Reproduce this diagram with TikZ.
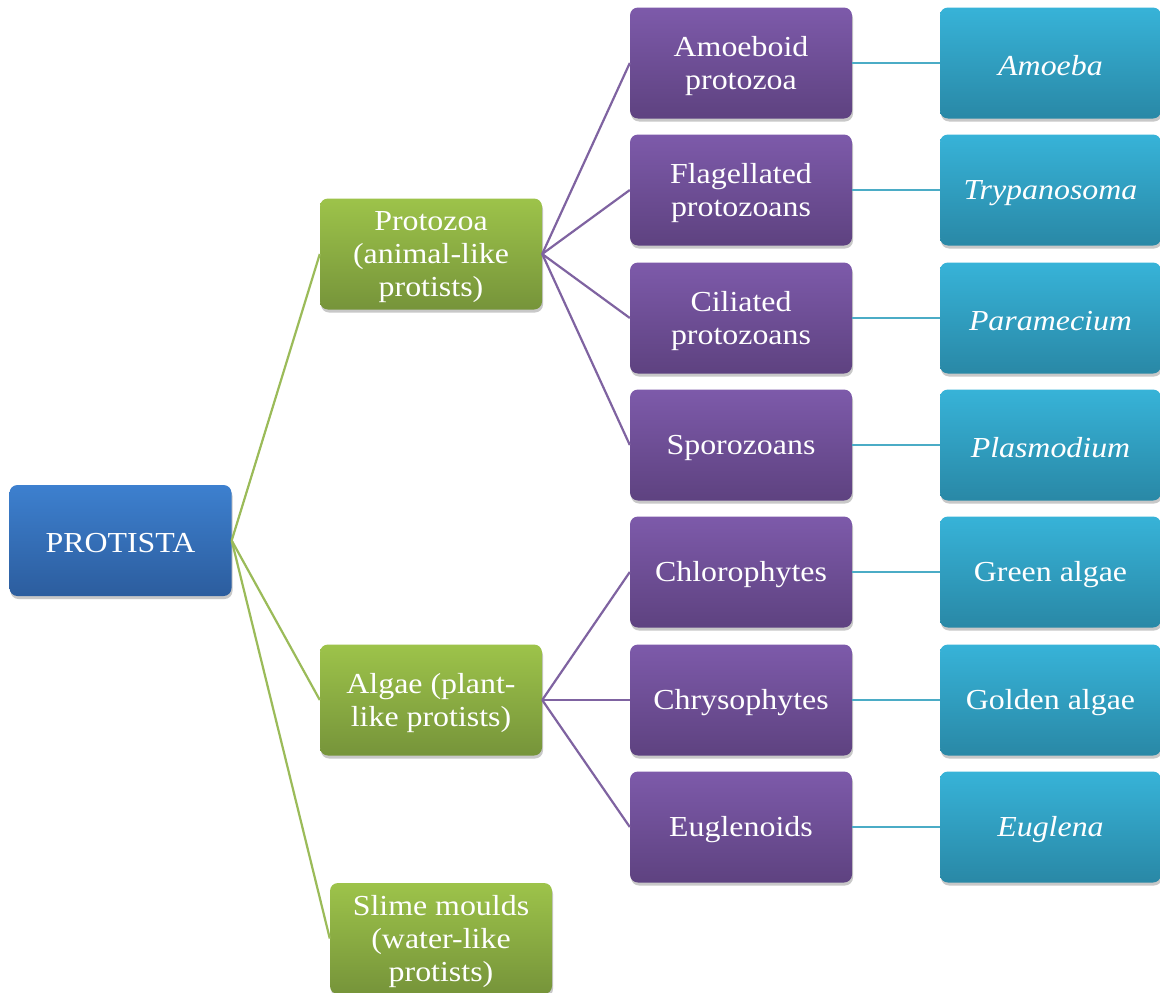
\documentclass[tikz,border=0pt]{standalone}
\usepackage{fontspec}
\setmainfont[FakeStretch=1.1]{Liberation Serif}
\usetikzlibrary{shadows}
\definecolor{bluetop}{HTML}{3D80CF}
\definecolor{bluebot}{HTML}{2C5D9E}
\definecolor{greentop}{HTML}{9DC34A}
\definecolor{greenbot}{HTML}{76943A}
\definecolor{purptop}{HTML}{7D5AAA}
\definecolor{purpbot}{HTML}{5E4280}
\definecolor{tealtop}{HTML}{37B3D8}
\definecolor{tealbot}{HTML}{2988A6}
\definecolor{greenline}{HTML}{9BBB59}
\definecolor{purpline}{HTML}{7F63A1}
\definecolor{tealline}{HTML}{4BACC6}
\begin{document}
\begin{tikzpicture}[x=1pt,y=-1pt,
  font=\fontsize{29}{33}\selectfont,
  box/.style={rounded corners=8pt, minimum width=222pt, minimum height=111pt,
    inner sep=0pt,
    drop shadow={shadow xshift=1pt, shadow yshift=-3pt, opacity=0.3, fill=black!70},
    label={[align=center, text=white, inner sep=0pt, yshift=-3pt]center:{#1}}},
  bluebox/.style={box={#1}, top color=bluetop, bottom color=bluebot},
  greenbox/.style={box={#1}, top color=greentop, bottom color=greenbot},
  purpbox/.style={box={#1}, top color=purptop, bottom color=purpbot},
  tealbox/.style={box={#1}, top color=tealtop, bottom color=tealbot, minimum width=221pt},
  gline/.style={draw=greenline, line width=2.2pt},
  pline/.style={draw=purpline, line width=2.2pt},
  tline/.style={draw=tealline, line width=2.6pt}]
\useasboundingbox (0,0) rectangle (1160,993);
\clip (0,0) rectangle (1160,993);
\fill[white] (0,0) rectangle (1160,993);

\node[bluebox={PROTISTA}] (root) at (120.5,540.5) {};
\node[greenbox={Protozoa\\(animal-like\\protists)}] (proto) at (431,254) {};
\node[greenbox={Algae (plant-\\like protists)}] (algae) at (431,700) {};
\node[greenbox={Slime moulds\\(water-like\\protists)}] (slime) at (441,938.5) {};

\node[purpbox={Amoeboid\\protozoa}] (p1) at (741,63) {};
\node[purpbox={Flagellated\\protozoans}] (p2) at (741,190) {};
\node[purpbox={Ciliated\\protozoans}] (p3) at (741,318) {};
\node[purpbox={Sporozoans}] (p4) at (741,445) {};
\node[purpbox={Chlorophytes}] (p5) at (741,572) {};
\node[purpbox={Chrysophytes}] (p6) at (741,700) {};
\node[purpbox={Euglenoids}] (p7) at (741,827) {};

\node[tealbox={\itshape Amoeba}] (t1) at (1050.5,63) {};
\node[tealbox={\itshape Trypanosoma}] (t2) at (1050.5,190) {};
\node[tealbox={\itshape Paramecium}] (t3) at (1050.5,318) {};
\node[tealbox={\itshape Plasmodium}] (t4) at (1050.5,445) {};
\node[tealbox={Green algae}] (t5) at (1050.5,572) {};
\node[tealbox={Golden algae}] (t6) at (1050.5,700) {};
\node[tealbox={\itshape Euglena}] (t7) at (1050.5,827) {};

\foreach \c in {proto,algae,slime} \draw[gline] (root.east) -- (\c.west);
\foreach \c in {p1,p2,p3,p4} \draw[pline] (proto.east) -- (\c.west);
\foreach \c in {p5,p6,p7} \draw[pline] (algae.east) -- (\c.west);
\foreach \i in {1,...,7} \draw[tline] (p\i.east) -- (t\i.west);
\end{tikzpicture}
\end{document}
